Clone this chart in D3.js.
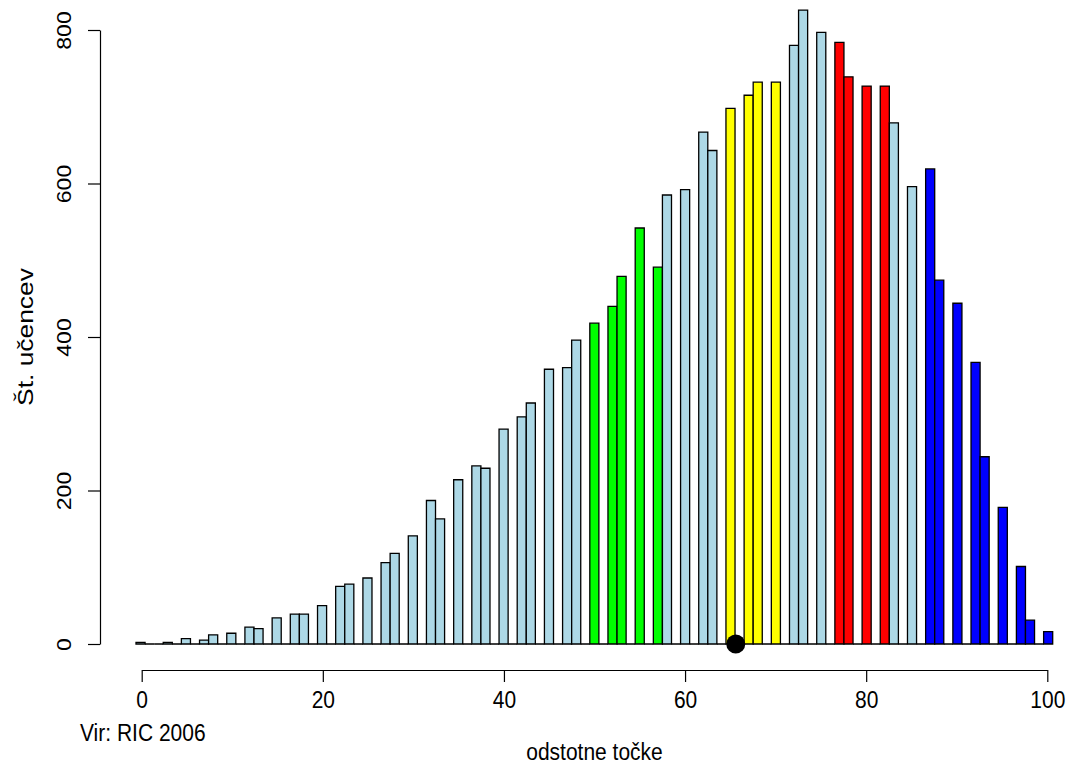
<!DOCTYPE html>
<html>
<head>
<meta charset="utf-8">
<script src="https://cdnjs.cloudflare.com/ajax/libs/d3/7.8.5/d3.min.js"></script>
<style>
  body { margin: 0; background: #fff; }
  svg text { font-family: "Liberation Sans", Arial, sans-serif; fill: #000; }
</style>
</head>
<body>
<div id="chart"></div>
<script>
// percentage points 0..100 and number of pupils at each
const scores = d3.range(0, 101);
const counts = [
  2, 0, 0, 2, 0, 7, 0, 5, 12, 0,
  14, 0, 22, 20, 0, 34, 0, 39, 39, 0,
  50, 0, 75, 78, 0, 86, 0, 106, 118, 0,
  141, 0, 187, 163, 0, 214, 0, 232, 229, 0,
  280, 0, 296, 314, 0, 358, 0, 360, 396, 0,
  418, 0, 440, 479, 0, 542, 0, 491, 585, 0,
  592, 0, 667, 643, 0, 698, 0, 715, 732, 0,
  732, 0, 780, 826, 0, 797, 0, 784, 739, 0,
  727, 0, 727, 679, 0, 596, 0, 619, 474, 0,
  444, 0, 367, 244, 0, 178, 0, 101, 31, 0,
  16
];
// highlighted score ranges (grade limits)
const gradeRanges = [[50, 57], [65, 70], [77, 82], [87, 100]];
const gradeColors = ["#00ff00", "#ffff00", "#ff0000", "#0000ff"];
const otherColor = "#add8e6";
const xTicks = [0, 20, 40, 60, 80, 100];
const yTicks = [0, 200, 400, 600, 800];
const meanScore = 65.6;

const W = 1067, H = 765;
const stretch = 1.15; // the original text is a bit taller than wide

const svg = d3.select("#chart").append("svg")
  .attr("width", W).attr("height", H);

// bars sit in slots, axis is drawn on its own scale (like barplot + axis in R)
const xBand = d3.scaleBand().domain(scores).range([136, 1052.7]).padding(0);
const x = d3.scaleLinear().domain([0, 100]).range([141.7, 1047.3]);
const y = d3.scaleLinear().domain([0, 800]).range([644, 30]);

function barColor(s) {
  const i = gradeRanges.findIndex(r => s >= r[0] && s <= r[1]);
  return i < 0 ? otherColor : gradeColors[i];
}

// bars as paths so that empty slots still show their outline on the baseline
svg.append("g")
  .selectAll("path")
  .data(scores)
  .enter()
  .append("path")
  .attr("d", s => {
    const x0 = xBand(s), x1 = x0 + xBand.bandwidth();
    const y0 = y(0), y1 = y(counts[s]);
    return `M${x0},${y0}V${y1}H${x1}V${y0}Z`;
  })
  .attr("fill", s => barColor(s))
  .attr("stroke", "#000")
  .attr("stroke-width", 1.3);

// mean point
svg.append("circle")
  .attr("cx", x(meanScore))
  .attr("cy", y(0))
  .attr("r", 9.5)
  .attr("fill", "#000");

// x axis
const gx = svg.append("g")
  .attr("transform", "translate(0,670)")
  .call(d3.axisBottom(x).tickValues(xTicks).tickSize(12).tickPadding(6).tickSizeOuter(0));
gx.select(".domain").attr("stroke-width", 1.2);
gx.selectAll(".tick line").attr("stroke-width", 1.2);
gx.selectAll(".tick text")
  .attr("font-size", 21)
  .attr("font-family", null)
  .attr("transform", `scale(1,${stretch})`);

// y axis
const gy = svg.append("g")
  .attr("transform", "translate(100,0)")
  .call(d3.axisLeft(y).tickValues(yTicks).tickSize(12).tickSizeOuter(0).tickFormat(d3.format("d")));
gy.select(".domain").attr("stroke-width", 1.2);
gy.selectAll(".tick line").attr("stroke-width", 1.2);
gy.selectAll(".tick text")
  .attr("font-size", 20)
  .attr("font-family", null)
  .attr("x", null).attr("dy", null)
  .attr("text-anchor", "middle")
  .attr("transform", `translate(-29,0) rotate(-90) scale(${stretch},1)`);

// labels
svg.append("text")
  .attr("transform", `translate(33,337) rotate(-90) scale(1.2,1)`)
  .attr("text-anchor", "middle")
  .attr("font-size", 22)
  .text("Št. učencev");

svg.append("text")
  .attr("transform", `translate(${(x(0) + x(100)) / 2},760) scale(1,${stretch})`)
  .attr("text-anchor", "middle")
  .attr("font-size", 21)
  .text("odstotne točke");

svg.append("text")
  .attr("transform", `translate(80,741) scale(1,${stretch})`)
  .attr("font-size", 21)
  .text("Vir: RIC 2006");
</script>
</body>
</html>
